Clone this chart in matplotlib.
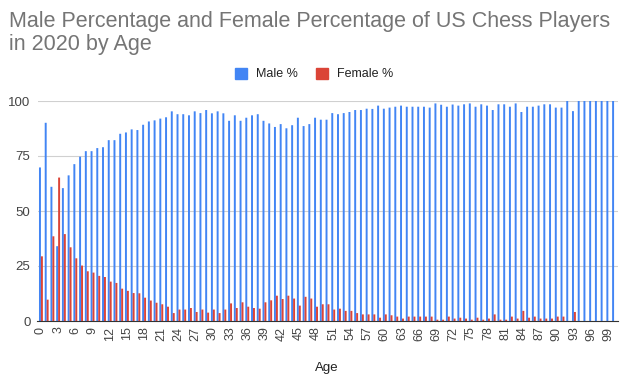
import numpy as np
import matplotlib
matplotlib.use("Agg")
import matplotlib.pyplot as plt
from matplotlib.patches import Patch

plt.rcParams['font.family'] = ['Liberation Sans', 'DejaVu Sans']

ages = list(range(0, 101))
male = [69.8, 90.1, 61, 34, 60.4, 66.2, 71.3, 74.7, 77.2, 77.2, 78.6, 79, 82.2, 82.2, 85.1, 85.7, 87.1, 86.8, 89.2, 90.7, 91.2,
        92, 92.6, 95.3, 94, 94, 93.5, 95.3, 94.5, 95.9, 94.4, 95.3, 94.4, 91, 93.5, 91, 92.4, 93.5, 94, 91, 89.8, 88.2, 89.5,
        87.6, 89, 92.4, 88.6, 89.5,
        92.4, 91.5, 91.5, 94.5, 94, 94.5, 95, 95.9, 95.9, 96.5, 96.4, 97.9, 96.5, 97, 97.4, 97.9, 97.4, 97.4, 97.4, 97.4, 97,
        98.9, 98.3, 97.4, 98.4, 97.9,
        98.5, 98.9, 97.4, 98.5, 97.9, 95.9, 98.5, 98.5, 97.4, 98.9, 95, 97.4, 97.4, 97.9, 98.5, 98.5, 97, 97, 100, 95.4,
        100, 100, 100, 100, 100, 100, 100]
female = [29.4, 9.7, 38.5, 65.2, 39.5, 33.5, 28.5, 25.2, 22.6, 22, 20.5, 20, 17.9, 17.3, 14.7, 13.7, 12.7, 12.6, 10.6, 9.3, 8.3,
          7.6, 6.5, 3.6, 5.2, 5.2, 5.9, 4.1, 5.2, 3.8, 5.2, 3.6, 5.2, 8, 5.9, 8.5, 6.5, 5.9, 5.6, 8.5, 9.4, 11.5, 10, 11.5,
          10.2, 7, 11, 10.2,
          6.5, 7.6, 7.6, 5.2, 5.6, 4.6, 4.6, 3.6, 3, 3, 3, 1.5, 3, 2.6, 2, 1.1, 2, 2, 2, 2, 2, 0.6, 0.6, 2, 1.1, 1.5,
          1.1, 0.6, 1.5, 0.6, 1.1, 3, 0.6, 0.6, 2, 1.1, 4.6, 1.5, 2, 1.1, 1.1, 1.1, 2, 2, 0, 4.1,
          0, 0, 0, 0, 0, 0, 0]

blue = '#4285F4'
red = '#DB4437'

fig = plt.figure(figsize=(6.24, 3.87), dpi=100)
ax = fig.add_axes([37.5 / 624, 1 - 321 / 387, 580 / 624, 220 / 387])

x = np.array(ages)
w = 0.34
ax.bar(x - w / 2, male, width=w, color=blue, linewidth=0, snap=False, zorder=3)
ax.bar(x + w / 2, female, width=w, color=red, linewidth=0, snap=False, zorder=3)

ax.set_xlim(-0.6, 100.6)
ax.set_ylim(0, 100)
ax.set_yticks([0, 25, 50, 75, 100])
ax.set_xticks(ages[::3])
ax.set_xticklabels([str(a) for a in ages[::3]], rotation=90, fontsize=9, color='#444444')
ax.tick_params(axis='y', labelsize=9.5, colors='#444444', length=0, pad=5)
ax.tick_params(axis='x', length=0, pad=4)
ax.grid(axis='y', color='#d0d0d0', linewidth=0.8, zorder=0)
for s in ['top', 'right', 'left']:
    ax.spines[s].set_visible(False)
ax.spines['bottom'].set_color('#333333')
ax.spines['bottom'].set_zorder(4)

title_lines = ['Male Percentage and Female Percentage of US Chess Players', 'in 2020 by Age']
fig.text(9 / 624, 1 - 27 / 387, title_lines[0], fontsize=15.5, color='#757575', ha='left', va='baseline')
fig.text(9 / 624, 1 - 50 / 387, title_lines[1], fontsize=15.5, color='#757575', ha='left', va='baseline')

handles = [Patch(color=blue, label='Male %'), Patch(color=red, label='Female %')]
fig.legend(handles=handles, loc='center', bbox_to_anchor=(314 / 624, 1 - 74 / 387), ncol=2, frameon=False,
           fontsize=9, handlelength=1.0, handleheight=1.0, handletextpad=0.7, columnspacing=1.4,
           labelcolor='#222222')

fig.text(327 / 624, 1 - 368 / 387, 'Age', fontsize=9.5, color='#222222', ha='center', va='center')

fig.savefig('out.png', dpi=100)
